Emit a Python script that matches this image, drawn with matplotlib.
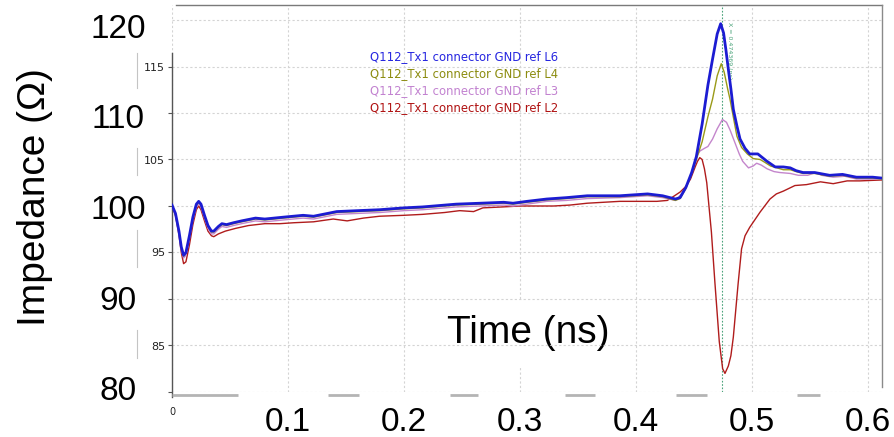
import matplotlib
matplotlib.use("Agg")
import matplotlib.pyplot as plt

# ---------------- data ----------------
series_names = ["Q112_Tx1 connector GND ref L6",
                "Q112_Tx1 connector GND ref L4",
                "Q112_Tx1 connector GND ref L3",
                "Q112_Tx1 connector GND ref L2"]

t_L6 = [0.000, 0.003, 0.006, 0.008, 0.010, 0.012, 0.015, 0.018, 0.021, 0.023, 0.025, 0.028,
        0.031, 0.034, 0.036, 0.040, 0.043, 0.047, 0.053, 0.060, 0.072, 0.080, 0.096, 0.113,
        0.122, 0.142, 0.160, 0.179, 0.200, 0.216, 0.245, 0.266, 0.286, 0.294, 0.306, 0.323,
        0.340, 0.358, 0.386, 0.410, 0.423, 0.434, 0.438, 0.443, 0.448, 0.452, 0.457, 0.462,
        0.466, 0.470, 0.473, 0.4755, 0.4775, 0.4796, 0.4818, 0.4839, 0.487, 0.4897, 0.494,
        0.498, 0.505, 0.509, 0.513, 0.520, 0.527, 0.533, 0.538, 0.544, 0.554, 0.567, 0.578,
        0.590, 0.604, 0.612]
z_L6 = [100.1, 99.2, 97.3, 95.6, 94.7, 95.0, 96.8, 98.8, 100.2, 100.5, 100.2, 99.0,
        97.9, 97.3, 97.3, 97.8, 98.1, 98.0, 98.2, 98.4, 98.7, 98.6, 98.8, 99.0,
        98.9, 99.4, 99.5, 99.6, 99.8, 99.9, 100.2, 100.3, 100.4, 100.3, 100.5, 100.75,
        100.9, 101.1, 101.1, 101.3, 101.1, 100.75, 100.9, 102.0, 103.6, 105.3, 108.8, 113.0,
        115.8, 118.5, 119.6, 118.6, 116.8, 114.7, 112.6, 110.4, 108.6, 107.2, 106.2,
        105.6, 105.6, 105.2, 104.8, 104.2, 104.2, 104.1, 103.8, 103.6, 103.6, 103.3, 103.4,
        103.1, 103.1, 103.0]

t_L4 = [0.000, 0.003, 0.006, 0.008, 0.010, 0.012, 0.015, 0.018, 0.021, 0.023, 0.025, 0.028,
        0.031, 0.034, 0.036, 0.040, 0.043, 0.047, 0.053, 0.060, 0.072, 0.080, 0.096, 0.113,
        0.122, 0.142, 0.160, 0.179, 0.200, 0.216, 0.245, 0.266, 0.286, 0.294, 0.306, 0.323,
        0.340, 0.358, 0.386, 0.410, 0.423, 0.434, 0.438, 0.443, 0.448, 0.452, 0.457, 0.462,
        0.466, 0.470, 0.4735, 0.476, 0.479, 0.481, 0.484, 0.487, 0.491, 0.496, 0.501, 0.507,
        0.511, 0.516, 0.527, 0.533, 0.538, 0.544, 0.554, 0.567, 0.578, 0.590, 0.604, 0.612]
z_L4 = [100.1, 99.1, 97.2, 95.5, 94.6, 94.9, 96.7, 98.7, 100.1, 100.4, 100.1, 98.9,
        97.8, 97.2, 97.2, 97.7, 98.0, 97.9, 98.1, 98.3, 98.6, 98.5, 98.7, 98.9,
        98.8, 99.3, 99.4, 99.5, 99.7, 99.8, 100.1, 100.2, 100.3, 100.2, 100.4, 100.65,
        100.8, 101.0, 101.0, 101.2, 101.0, 100.6, 100.8, 101.9, 103.5, 105.0, 106.9, 109.6,
        111.5, 114.0, 115.3, 114.4, 112.6, 111.5, 109.5, 107.5, 106.3, 105.6, 105.1, 105.0,
        104.7, 104.3, 103.9, 103.9, 103.7, 103.5, 103.5, 103.2, 103.3, 103.0, 103.0, 102.9]

t_L3 = [0.000, 0.003, 0.006, 0.008, 0.010, 0.012, 0.015, 0.018, 0.021, 0.023, 0.025, 0.028,
        0.031, 0.034, 0.036, 0.040, 0.043, 0.047, 0.053, 0.060, 0.072, 0.080, 0.096, 0.113,
        0.122, 0.142, 0.160, 0.179, 0.200, 0.216, 0.245, 0.266, 0.286, 0.294, 0.306, 0.323,
        0.340, 0.358, 0.386, 0.410, 0.423, 0.434, 0.440, 0.445, 0.449, 0.452, 0.455, 0.459,
        0.462, 0.466, 0.470, 0.4745, 0.478, 0.481, 0.485, 0.489, 0.492, 0.497, 0.501, 0.504,
        0.508, 0.513, 0.519, 0.524, 0.533, 0.540, 0.548, 0.555, 0.560, 0.570, 0.580, 0.590,
        0.604, 0.612]
z_L3 = [100.1, 99.0, 97.0, 95.3, 94.4, 94.7, 96.5, 98.5, 99.9, 100.3, 99.9, 98.7,
        97.6, 97.0, 97.0, 97.5, 97.8, 97.7, 97.9, 98.1, 98.4, 98.3, 98.5, 98.7,
        98.6, 99.1, 99.2, 99.3, 99.5, 99.6, 99.9, 100.0, 100.1, 100.0, 100.2, 100.5,
        100.6, 100.8, 100.9, 101.1, 100.9, 100.6, 101.4, 102.5, 104.0, 105.3, 105.9, 106.2,
        106.4, 107.2, 108.3, 109.3, 109.0, 108.2, 106.9, 105.6, 104.8, 104.1, 104.3, 104.6,
        104.4, 104.0, 103.7, 103.6, 103.5, 103.3, 103.3, 103.6, 103.3, 103.1, 103.2, 102.9,
        102.9, 102.9]

t_L2 = [0.000, 0.003, 0.006, 0.008, 0.010, 0.012, 0.015, 0.018, 0.021, 0.023, 0.025, 0.028,
        0.031, 0.034, 0.036, 0.040, 0.046, 0.055, 0.066, 0.080, 0.093, 0.105, 0.122, 0.139,
        0.151, 0.165, 0.179, 0.200, 0.216, 0.235, 0.248, 0.260, 0.268, 0.285, 0.300, 0.315,
        0.329, 0.343, 0.358, 0.372, 0.386, 0.400, 0.418, 0.427, 0.432, 0.438, 0.443, 0.447,
        0.451, 0.453, 0.455, 0.457, 0.459, 0.461, 0.465, 0.468, 0.4718, 0.4747, 0.4767,
        0.4796, 0.4818, 0.4839, 0.488, 0.491, 0.494, 0.498, 0.507, 0.5155, 0.521, 0.527,
        0.537, 0.547, 0.559, 0.570, 0.582, 0.593, 0.612]
z_L2 = [100.1, 99.0, 96.9, 95.0, 93.8, 94.0, 95.8, 98.0, 99.6, 100.0, 99.6, 98.4,
        97.3, 96.8, 96.7, 97.0, 97.3, 97.6, 97.9, 98.1, 98.1, 98.2, 98.3, 98.6,
        98.4, 98.7, 98.9, 99.0, 99.1, 99.3, 99.5, 99.4, 99.8, 99.9, 100.0, 100.0,
        100.0, 100.1, 100.3, 100.4, 100.5, 100.5, 100.5, 100.6, 101.0, 101.5, 102.1, 102.9,
        104.2, 104.8, 105.2, 105.0, 104.0, 102.5, 97.2, 91.8, 85.4, 82.5, 82.0,
        82.8, 83.9, 85.9, 91.6, 95.4, 96.8, 97.7, 99.35, 100.75, 101.3, 101.6,
        102.2, 102.3, 102.6, 102.4, 102.7, 102.7, 102.8]

marker_x = 0.474369
marker_text = "X = 0.474369 (ns)"

small_yticks = [80, 85, 90, 95, 100, 105, 110, 115, 120]
small_ylabels = ["", "85", "", "95", "", "105", "", "115", ""]
big_yticks = [80, 90, 100, 110, 120]
big_ylabels = ["80", "90", "100", "110", "120"]
xticks = [0, 0.1, 0.2, 0.3, 0.4, 0.5, 0.6]
xlabels = ["0", "0.1", "0.2", "0.3", "0.4", "0.5", "0.6"]

# ---------------- styling ----------------
plt.rcParams["font.family"] = ["DejaVu Sans"]
BIG = ["Liberation Sans", "DejaVu Sans"]
line_colors = ["#1c1cd2", "#9a9a18", "#c486cc", "#b01c1c"]
text_colors = ["#2626e0", "#8c8c10", "#c282d0", "#b01212"]

W, H = 894, 437
fig = plt.figure(figsize=(W / 100, H / 100), dpi=100)
px0, px1, py_top, py_bot = 172, 882, 5, 392
ax = fig.add_axes([px0 / W, (H - py_bot) / H, (px1 - px0) / W, (py_bot - py_top) / H])
ax.set_xlim(0, (px1 - px0) / 1160.0)
ax.set_ylim(80, 80 + (py_bot - py_top) / 9.3)
for s in ax.spines.values():
    s.set_visible(False)

def axfx(px):
    return (px - px0) / (px1 - px0)

def axfy(py):
    return (py_bot - py) / (py_bot - py_top)

# grid & ticks
ax.set_yticks(small_yticks)
ax.set_yticklabels(small_ylabels, fontsize=8, color="#222222")
ax.tick_params(axis="y", length=3, width=0.8, color="#555555", pad=2)
ax.yaxis.get_major_ticks()[-1].tick1line.set_visible(False)
ax.set_xticks(xticks)
ax.set_xticklabels(xlabels)
ax.tick_params(axis="x", length=0, pad=10.5, colors="black")
for i, lab in enumerate(ax.get_xticklabels()):
    if i == 0:
        lab.set_fontsize(7)
        lab.set_color("#222222")
    else:
        lab.set_fontsize(24)
        lab.set_family(BIG)
ax.grid(True, color="#d4d4d4", linestyle=(0, (2, 2)), linewidth=0.8)

# frame pieces
ax.plot([axfx(176), 1], [1, 1], transform=ax.transAxes, clip_on=False, color="#7a7a7a", lw=1.0)
ax.plot([1, 1], [axfy(387), 1], transform=ax.transAxes, clip_on=False, color="#8a8a8a", lw=1.0)
ax.plot([0, 0], [axfy(397), axfy(53)], transform=ax.transAxes, clip_on=False, color="#555555", lw=1.0)
for a, b in [(172, 238), (328, 359), (450, 478), (565, 595), (676, 707), (797, 820)]:
    ax.plot([axfx(a), axfx(b)], [axfy(395), axfy(395)], transform=ax.transAxes,
            clip_on=False, color="#b4b4b4", lw=2.0, solid_capstyle="butt")
for a, b in [(53, 88), (148, 175), (230, 267), (330, 358)]:
    ax.plot([axfx(137), axfx(137)], [axfy(a), axfy(b)], transform=ax.transAxes,
            clip_on=False, color="#c4c4c4", lw=0.8)

# curves
ax.plot(t_L2, z_L2, color=line_colors[3], lw=1.0, zorder=3)
ax.plot(t_L3, z_L3, color=line_colors[2], lw=1.0, zorder=3)
ax.plot(t_L4, z_L4, color=line_colors[1], lw=1.0, zorder=3)
ax.plot(t_L6, z_L6, color=line_colors[0], lw=2.0, zorder=4)

# marker
ax.axvline(marker_x, color="#4aa37a", lw=0.8, linestyle=(0, (1.5, 1.5)), zorder=2.6)
ax.text(marker_x + 0.0065, axfy(22), marker_text, transform=ax.get_xaxis_transform(),
        rotation=270, ha="center", va="top", fontsize=4.5, color="#4aa37a")

# legend text
for i, (name, col) in enumerate(zip(series_names, text_colors)):
    ax.text(axfx(370), axfy(57 + 16.7 * i), name, transform=ax.transAxes, color=col,
            fontsize=8.4, ha="left", va="center")

# big overlay y labels (secondary axis)
def fwd(z):
    return (9.3 * (z - 80) + 720) / 9.05

def inv(v):
    return 80 + (9.05 * v - 720) / 9.3

sec = ax.secondary_yaxis(axfx(137), functions=(fwd, inv))
sec.spines["left"].set_visible(False)
sec.set_yticks(big_yticks)
sec.set_yticklabels(big_ylabels)
sec.tick_params(axis="y", length=0, pad=13.5)
for lab in sec.get_yticklabels():
    lab.set_fontsize(24)
    lab.set_family(BIG)
    lab.set_ha("center")

# axis titles
ax.set_ylabel("Impedance (Ω)", fontsize=28, family=BIG, va="center", ha="center")
ax.yaxis.set_label_coords(axfx(35), axfy(197))
ax.set_xlabel("Time (ns)", fontsize=28, family=BIG, va="center", ha="center",
              bbox=dict(facecolor="white", edgecolor="none", pad=11))
ax.xaxis.set_label_coords(axfx(528), axfy(333))

fig.savefig("out.png", dpi=100)
